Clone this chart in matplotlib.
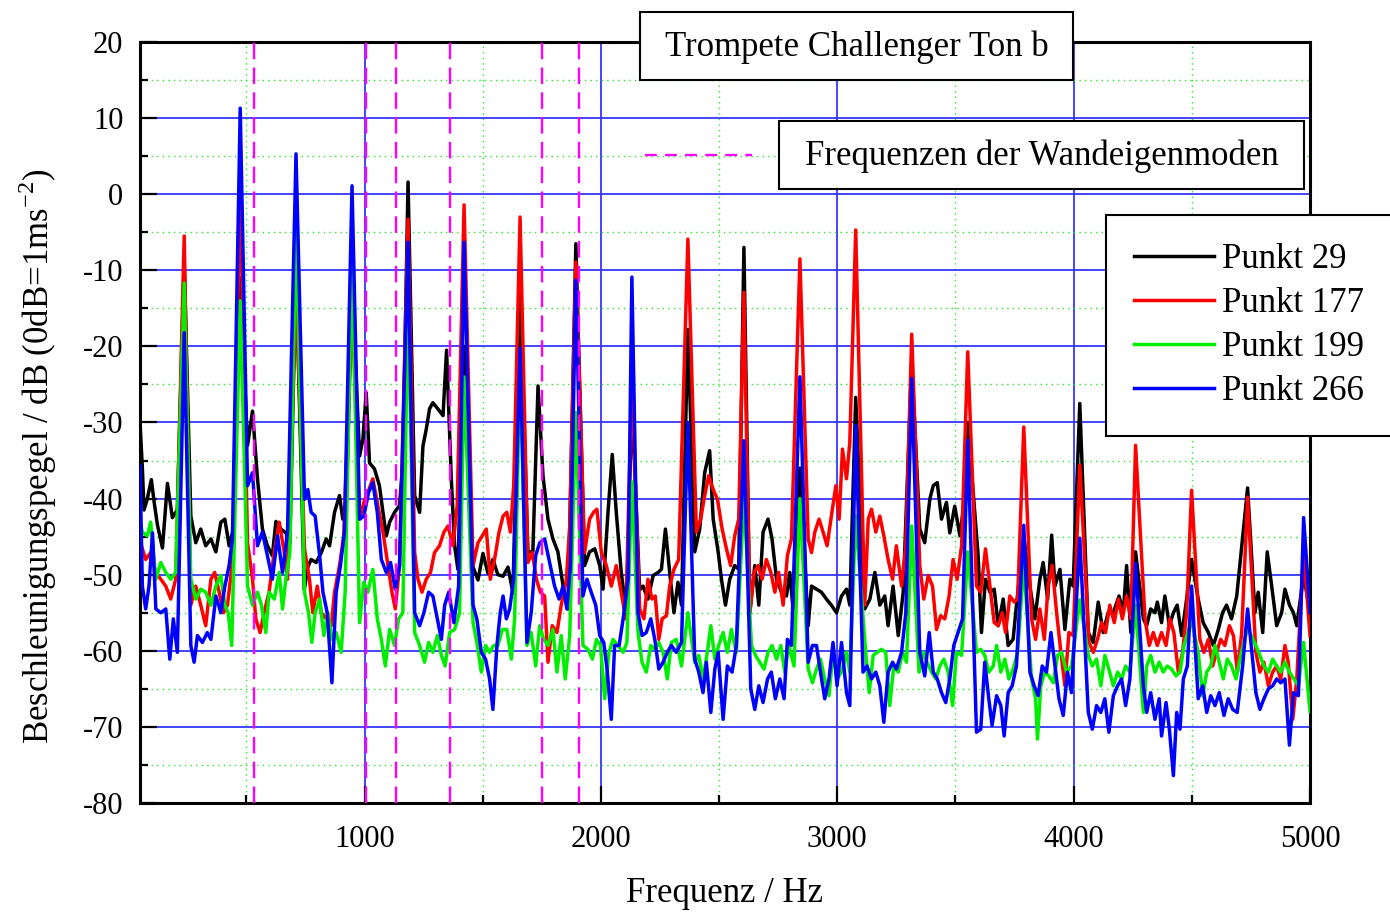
import numpy as np
import matplotlib
matplotlib.use("Agg")
from matplotlib import pyplot as plt
from matplotlib.patches import Rectangle
from matplotlib.lines import Line2D
from matplotlib.ticker import MultipleLocator

plt.rcParams['font.family'] = ['Liberation Serif', 'DejaVu Serif']
plt.rcParams['axes.unicode_minus'] = False

# harmonics of the played note (Hz)
harm_f = [237, 474, 710, 947, 1184, 1421, 1658, 1894, 2131, 2368, 2605,
          2842, 3078, 3315, 3552, 3789, 4026, 4262, 4499, 4736, 4973]

# wall eigenmode frequencies (magenta dashed lines)
mode_f = [531, 1007, 1131, 1363, 1752, 1907]

# peak level at every harmonic, dB
peaks_29 = [-9, -11, -10, -12, 1.6, -20, -12, -6.5, -27, -17.8, -7,
            -36, -26.7, -22, -30, -45, -27.5, -47, -48, -38.6, -50]
peaks_177 = [-5.5, 1, -12, -14, -3.3, -1.4, -3, -8.9, -24, -5.9, -12.9,
             -8.5, -4.7, -18.4, -20.7, -30.6, -35.6, -33, -38.9, -39.8, -47]
peaks_199 = [-11.7, -14, -3.4, -7.3, -13.5, -24, -22, -28.7, -37.8, -55, -40,
             -40, -42.3, -43.6, -47, -48.6, -53.3, -54, -56, -57, -58.9]
peaks_266 = [-18.2, 11.3, 5.3, 1.1, -6.3, -6.3, -20.2, -11.3, -10.9, -30, -32.4,
             -24, -30.4, -24.2, -32.3, -43.5, -45.2, -48.5, -51.5, -54.5, -42.5]

# level between the harmonics, (Hz, dB)
floor_29 = [
    (50, -30), (60, -36), (67, -41.5), (81, -40), (98, -37.5), (110, -40.5), (124, -43.5),
    (145, -46.5), (166, -38), (187, -42.5), (208, -41.5),
    (265, -42.3), (286, -45.8), (307, -44), (328, -46.2), (350, -45.3), (371, -47), (392, -43.1),
    (409, -42.7), (427, -46.2), (445, -44),
    (505, -33), (526, -28.5), (547, -37.4), (568, -44), (589, -46.2), (610, -47.5), (625, -43),
    (646, -44), (667, -44.5), (684, -46),
    (745, -52), (760, -49), (774, -48), (795, -48.4), (817, -47.1), (838, -45.3), (852, -46.2),
    (873, -41.8), (894, -39.6), (908, -42.7), (922, -42),
    (979, -34.4), (993, -32.2), (1007, -26.1), (1021, -35.3), (1042, -36.1), (1063, -38.3),
    (1078, -41.8), (1092, -44.9), (1106, -43.1), (1127, -41.8), (1148, -40.9), (1162, -35.3),
    (1212, -39.6), (1233, -41.8), (1247, -33.1), (1261, -30.9), (1275, -28.2), (1289, -27.4),
    (1310, -28.2), (1332, -29.1), (1347, -20.5), (1367, -37.4), (1381, -46.2), (1395, -49.3),
    (1459, -49), (1480, -50.7), (1501, -47.2), (1522, -49.8), (1543, -48), (1564, -50),
    (1586, -50.2), (1607, -49), (1628, -52.4),
    (1691, -47), (1712, -47), (1734, -25.2), (1755, -37), (1776, -42.7), (1797, -45.3),
    (1818, -47), (1840, -51.5), (1861, -54.5),
    (1931, -48.8), (1952, -47), (1974, -46.6), (1995, -48.8), (2009, -51.9), (2030, -41.8),
    (2048, -34.2), (2065, -41.8), (2086, -49.7), (2108, -55),
    (2164, -52), (2178, -51.5), (2199, -53.2), (2221, -50.1), (2242, -49.7), (2256, -49.3),
    (2273, -44), (2291, -49.7), (2309, -55), (2326, -51), (2341, -54),
    (2397, -47), (2418, -44), (2439, -36.6), (2460, -33.7), (2475, -42.7), (2496, -47),
    (2510, -50.6), (2527, -54), (2545, -50.6), (2566, -48.8), (2583, -49.3),
    (2630, -55), (2651, -48.8), (2668, -54), (2686, -44.4), (2707, -42.7), (2724, -45.3),
    (2743, -50.6), (2764, -52.3), (2785, -52.8), (2799, -49.7), (2813, -54.5),
    (2877, -56.7), (2891, -51.5), (2912, -51.9), (2933, -52.3), (2954, -53.2), (2975, -54),
    (2997, -55), (3018, -52.8), (3039, -51.9), (3053, -54),
    (3116, -54.5), (3138, -53.2), (3159, -49.7), (3180, -54), (3201, -52.8), (3215, -56.7),
    (3236, -51.5), (3258, -58), (3279, -52.3),
    (3349, -44), (3370, -45.8), (3392, -40), (3406, -38.3), (3423, -37.9), (3441, -42.7),
    (3462, -40.5), (3476, -44.5), (3497, -41), (3519, -44.9), (3533, -41.4),
    (3596, -47.5), (3610, -57.6), (3627, -50.6), (3646, -52.3), (3664, -51.9), (3681, -56.7),
    (3702, -53.2), (3723, -59.3), (3744, -58.5), (3758, -54),
    (3815, -51.5), (3836, -55.8), (3857, -50.6), (3871, -48.4), (3890, -53.2), (3907, -44.8),
    (3921, -51.5), (3942, -49.3), (3963, -57.2), (3984, -50.6), (3998, -51.5),
    (4062, -57.6), (4083, -58.9), (4104, -53.6), (4125, -57.6), (4146, -55), (4168, -55),
    (4192, -52.8), (4210, -55), (4224, -48.8), (4242, -57.6),
    (4295, -55.8), (4309, -56.7), (4326, -54.5), (4344, -55), (4354, -53.6), (4372, -56.3),
    (4386, -52.8), (4405, -56.7), (4422, -55), (4438, -54), (4457, -58), (4478, -53.2),
    (4527, -53.2), (4548, -56.3), (4570, -57.6), (4591, -59.3), (4612, -57.2), (4630, -55),
    (4647, -54), (4668, -55.8), (4690, -52.8),
    (4767, -55), (4781, -52.3), (4800, -57.6), (4819, -47), (4838, -51.5), (4859, -56.7),
    (4880, -55), (4894, -51.9), (4913, -54), (4930, -55), (4944, -56.7),
    (5000, -55)]

floor_177 = [
    (50, -45), (56, -46.2), (74, -48), (95, -47.1), (117, -49.7), (138, -50.6), (159, -51.5),
    (180, -53.2), (201, -50.6),
    (265, -54), (286, -51.5), (307, -54), (328, -56.7), (350, -50.6), (366, -49.7), (385, -52.3),
    (403, -55), (420, -54), (441, -48.4),
    (505, -45.8), (526, -50.6), (540, -55.8), (558, -57.6), (575, -55), (596, -52.3), (618, -47),
    (639, -43.1), (660, -47), (674, -50.6),
    (746, -46.6), (767, -50.6), (781, -55), (800, -51.5), (817, -55), (838, -55.8), (859, -56.7),
    (873, -52.3), (894, -48.8), (912, -44.9),
    (979, -42.7), (997, -40.5), (1014, -39.2), (1035, -37.4), (1056, -40.9), (1078, -44.4),
    (1099, -48.8), (1116, -52.3), (1130, -54.5), (1148, -48.8),
    (1212, -47.1), (1226, -50.6), (1243, -52.3), (1261, -50.6), (1279, -49.7), (1296, -47.1),
    (1317, -46.2), (1336, -44.4), (1353, -43.6), (1374, -46.2), (1392, -40.9),
    (1459, -48.8), (1480, -45.8), (1498, -44.9), (1515, -44), (1532, -50.6), (1550, -48),
    (1569, -44.4), (1586, -42.3), (1602, -41.8), (1617, -44.4), (1631, -38.3),
    (1691, -48.4), (1710, -47.1), (1727, -50.6), (1744, -52.3), (1762, -52.8), (1776, -61.5),
    (1794, -56.7), (1814, -57.6), (1832, -54), (1854, -50.6), (1868, -43.6),
    (1931, -47.1), (1952, -42.7), (1969, -41.8), (1983, -41.4), (2002, -47.1), (2023, -48.8),
    (2044, -51.5), (2065, -48.8), (2086, -52.3), (2105, -55.8),
    (2164, -54.5), (2182, -55.8), (2199, -50.6), (2216, -53.2), (2230, -52.8), (2245, -58.5),
    (2259, -55.8), (2277, -55.4), (2291, -51.5), (2309, -49.3), (2329, -48),
    (2404, -44.4), (2422, -42.7), (2439, -39.6), (2456, -37), (2475, -38.8), (2493, -40.1),
    (2513, -44), (2531, -46.6), (2549, -48.8), (2566, -44.9), (2583, -42.7),
    (2630, -55), (2648, -49.7), (2665, -48.8), (2682, -50.6), (2700, -48), (2719, -49.7),
    (2736, -52.3), (2752, -49.7), (2771, -54), (2789, -47.5), (2806, -45.3),
    (2877, -45.3), (2891, -47.1), (2905, -44.4), (2923, -42.7), (2940, -44.4), (2957, -46.2),
    (2975, -42.3), (2994, -38.3), (3008, -42.7), (3022, -33.5), (3039, -37.4), (3053, -32.6),
    (3116, -54), (3131, -42.7), (3145, -41.4), (3163, -44.4), (3180, -42.3), (3197, -44.9),
    (3215, -48), (3234, -50.6), (3250, -46.2), (3272, -51.5), (3290, -46.2),
    (3349, -48.8), (3366, -53.2), (3385, -50.1), (3403, -51.5), (3420, -57.2), (3437, -55.4),
    (3455, -55.8), (3473, -52.8), (3490, -48), (3507, -50.6), (3526, -46.2),
    (3589, -51.5), (3607, -52.3), (3627, -46.6), (3646, -51.5), (3664, -56.3), (3681, -56.7),
    (3698, -55), (3712, -57.6), (3730, -52.8), (3749, -53.6), (3763, -53.2),
    (3822, -55.8), (3839, -58.5), (3857, -54.5), (3876, -58.5), (3892, -51.5), (3909, -48.8),
    (3928, -55), (3946, -60.2), (3963, -64.6), (3980, -57.6), (3998, -58),
    (4065, -58.9), (4083, -60.2), (4101, -58.5), (4118, -56.3), (4135, -57.6), (4153, -54),
    (4172, -56.3), (4189, -53.2), (4206, -55.8), (4224, -52.8), (4242, -55.8),
    (4302, -55.8), (4320, -59.3), (4337, -57.6), (4354, -59.3), (4372, -57.6), (4391, -59.3),
    (4407, -55.8), (4424, -57.6), (4443, -62.8), (4461, -60.2), (4478, -55),
    (4534, -58.5), (4551, -60.2), (4570, -58.5), (4588, -62), (4605, -60.2), (4622, -58.5),
    (4640, -59.3), (4659, -56.7), (4676, -58), (4693, -62.8), (4711, -57.6),
    (4771, -60.2), (4788, -62.8), (4805, -61.5), (4824, -64.6), (4842, -62.8), (4859, -62),
    (4876, -63.7), (4894, -59.3), (4908, -61.5), (4927, -69), (4944, -63.7),
    (5000, -58)]

floor_199 = [
    (50, -43), (60, -44.4), (81, -44.9), (95, -43.1), (117, -50.6), (138, -48.4), (159, -49.7),
    (180, -50.6), (201, -49.7),
    (265, -50.6), (286, -53.2), (307, -51.9), (328, -52.3), (350, -54), (371, -51.5), (392, -50.1),
    (409, -54), (423, -55), (438, -59.3),
    (505, -51.5), (526, -54), (547, -52.3), (564, -54), (582, -57.6), (596, -52.3), (618, -53.2),
    (639, -49.7), (653, -54.5), (667, -50.6), (684, -47.1),
    (746, -52.3), (763, -55), (777, -58.9), (791, -55), (810, -53.2), (828, -58), (845, -55),
    (862, -58.5), (880, -57.6), (901, -60.2), (918, -52.3),
    (979, -56.3), (997, -51), (1014, -52.3), (1035, -49.3), (1054, -55.8), (1071, -58.5),
    (1088, -62), (1106, -57.2), (1127, -59.3), (1144, -55.8), (1162, -55),
    (1212, -57.6), (1233, -59.3), (1254, -61.5), (1271, -58.9), (1289, -60.2), (1308, -58),
    (1325, -60.6), (1341, -62), (1360, -57.6), (1381, -57.2), (1402, -55),
    (1459, -56.3), (1475, -58.9), (1494, -62.8), (1512, -59.3), (1529, -60.2), (1546, -59.3),
    (1564, -59.3), (1583, -57.2), (1602, -57.2), (1621, -61.1), (1635, -55.8),
    (1687, -59.3), (1705, -57.6), (1724, -62), (1741, -56.7), (1758, -58.5), (1776, -59.3),
    (1797, -57.2), (1814, -62.8), (1832, -58), (1849, -63.7), (1868, -58),
    (1924, -59.3), (1945, -59.8), (1964, -61.1), (1981, -58.5), (1998, -59.3), (2016, -66.3),
    (2034, -60.2), (2051, -58.5), (2072, -59.3), (2094, -60.2), (2110, -58.9),
    (2157, -57.6), (2174, -61.5), (2192, -62.8), (2211, -59.3), (2228, -59.8), (2245, -58.9),
    (2263, -60.2), (2281, -63.7), (2298, -58.9), (2319, -58.5), (2341, -62),
    (2397, -61.5), (2414, -60.6), (2432, -63.7), (2450, -60.2), (2465, -56.7), (2482, -61.1),
    (2498, -59.3), (2517, -57.6), (2535, -60.2), (2552, -57.2), (2573, -60.2),
    (2637, -59.3), (2654, -60.6), (2672, -61.5), (2690, -62.4), (2707, -60.2), (2724, -59.3),
    (2743, -61.1), (2761, -59.3), (2778, -62.8), (2795, -59.3), (2817, -62),
    (2877, -62.4), (2895, -64.2), (2912, -62.4), (2929, -61.1), (2947, -63.7), (2965, -65.9),
    (2982, -60.2), (2999, -63.7), (3018, -62.8), (3039, -60.2), (3053, -62.8),
    (3116, -58.5), (3135, -65.5), (3152, -60.6), (3169, -60.2), (3187, -59.8), (3205, -60.2),
    (3222, -67.2), (3239, -62), (3258, -62.8), (3276, -60.2), (3293, -61.5),
    (3346, -62.8), (3363, -60.2), (3380, -61.5), (3399, -62.8), (3417, -63.7), (3434, -62),
    (3451, -61.1), (3469, -62.8), (3488, -67.2), (3504, -60.2), (3526, -60.6),
    (3589, -60.2), (3607, -59.8), (3624, -60.6), (3641, -62.8), (3660, -62), (3674, -59.3),
    (3692, -62.8), (3709, -61.1), (3726, -63.7), (3744, -62.4), (3763, -60.2),
    (3822, -63.7), (3839, -66.3), (3847, -71.6), (3861, -64.6), (3878, -62.8), (3895, -63.3),
    (3914, -64.2), (3932, -60.6), (3949, -60.2), (3970, -62.8), (3991, -62),
    (4062, -60.6), (4079, -62), (4097, -61.1), (4115, -64.6), (4132, -60.6), (4149, -62.4),
    (4168, -64.6), (4186, -62.8), (4203, -63.7), (4220, -62), (4238, -62.8),
    (4295, -68.1), (4309, -62), (4326, -60.6), (4344, -62.8), (4362, -61.5), (4379, -62.8),
    (4396, -62), (4414, -62.4), (4433, -63.3), (4450, -62.8), (4467, -59.3),
    (4527, -60.2), (4546, -65.9), (4563, -62.8), (4580, -62), (4598, -59.3), (4616, -61.5),
    (4633, -63.7), (4650, -61.1), (4668, -62), (4687, -63.7), (4707, -60.6),
    (4771, -59.3), (4788, -60.6), (4805, -62), (4824, -62.8), (4842, -61.1), (4859, -62),
    (4876, -62.8), (4894, -61.5), (4913, -62.8), (4932, -63.7), (4951, -64.6),
    (5000, -68)]

floor_266 = [
    (50, -35.7), (60, -51.5), (74, -54.5), (88, -51.5), (103, -44.5), (117, -54.5), (138, -55),
    (159, -54.5), (176, -61.1), (191, -55.8), (208, -60.2),
    (265, -59.3), (279, -61.5), (293, -58), (314, -58.9), (335, -57.6), (350, -58.5), (371, -52.8),
    (392, -55), (409, -51.5), (427, -48.8), (441, -45.3),
    (505, -38.3), (526, -36.6), (547, -46.2), (568, -44.4), (589, -47.5), (610, -50.6),
    (632, -44.9), (653, -49.7), (674, -44.4),
    (746, -40.1), (760, -38.8), (774, -41.8), (791, -42.3), (810, -47.5), (824, -52.3), (842, -55),
    (862, -64.2), (880, -52.3), (898, -48.8), (915, -44.4),
    (979, -42.7), (997, -42.3), (1017, -39.2), (1035, -37.9), (1054, -41.8), (1071, -48),
    (1092, -49.7), (1110, -48.4), (1130, -51.9), (1148, -48.8),
    (1212, -55), (1233, -56.7), (1251, -55), (1271, -52.3), (1289, -52.8), (1308, -55.8),
    (1325, -58.5), (1339, -54), (1356, -52.3), (1378, -56.3), (1398, -51.5),
    (1459, -54), (1475, -55.8), (1494, -60.2), (1512, -61.1), (1529, -63.7), (1543, -67.7),
    (1560, -59.3), (1574, -55), (1586, -52.8), (1600, -55.8), (1614, -54.5), (1631, -50.6),
    (1687, -58.9), (1705, -55), (1724, -47.5), (1741, -45.8), (1762, -45.3), (1783, -48.4),
    (1804, -51.5), (1823, -53.2), (1840, -51.5), (1856, -54.5), (1871, -48.8),
    (1924, -52.8), (1941, -50.6), (1959, -52.3), (1978, -54), (1995, -58), (2012, -58.9),
    (2026, -62.4), (2044, -69), (2058, -59.3), (2077, -59.3), (2094, -55.8), (2115, -50.6),
    (2157, -55), (2174, -58), (2192, -57.6), (2211, -55.8), (2228, -58.5), (2245, -62.4),
    (2263, -61.5), (2281, -60.2), (2298, -59.3), (2319, -60.2), (2341, -58.9),
    (2397, -61.1), (2414, -62.8), (2432, -65.5), (2446, -61.5), (2465, -68.1), (2482, -62.4),
    (2496, -60.2), (2517, -69), (2535, -62), (2555, -62.8), (2573, -59.3),
    (2634, -65), (2651, -67.7), (2668, -64.6), (2686, -66.8), (2705, -63.7), (2721, -62.8),
    (2738, -66.3), (2757, -63.7), (2775, -66.3), (2789, -58.5), (2806, -59.3),
    (2877, -61.5), (2895, -59.3), (2912, -59.3), (2929, -62.8), (2947, -66.3), (2965, -63.7),
    (2982, -58.9), (2999, -64.6), (3018, -58.9), (3039, -65.5), (3053, -67.2),
    (3109, -62.8), (3126, -62), (3145, -63.7), (3163, -62.8), (3180, -64.6), (3197, -69.4),
    (3215, -62.8), (3234, -61.5), (3250, -62.4), (3272, -60.2), (3290, -55),
    (3349, -60.2), (3370, -63.3), (3389, -57.6), (3406, -62.8), (3423, -63.7), (3441, -65.5),
    (3459, -66.8), (3476, -63.7), (3493, -59.3), (3511, -57.6), (3530, -55.8),
    (3589, -70.7), (3607, -70.3), (3624, -61.5), (3641, -66.3), (3655, -69.8), (3674, -65.9),
    (3692, -67.2), (3706, -71.2), (3723, -65.5), (3740, -64.6), (3758, -62),
    (3815, -62.8), (3833, -64.6), (3850, -65.9), (3867, -62), (3885, -62.8), (3904, -57.6),
    (3921, -62), (3938, -66.3), (3956, -68.5), (3974, -62.8), (3991, -65.5),
    (4062, -68.1), (4079, -70.3), (4097, -67.2), (4115, -68.1), (4132, -66.3), (4149, -70.7),
    (4168, -65.9), (4186, -64.6), (4203, -63.7), (4220, -67.2), (4238, -63.7),
    (4295, -64.6), (4309, -68.1), (4326, -65.5), (4344, -69), (4362, -66.3), (4372, -71.2),
    (4391, -66.8), (4405, -70.3), (4422, -76.4), (4436, -68.1), (4450, -70.3), (4464, -63.7),
    (4481, -62),
    (4527, -66.3), (4546, -64.6), (4563, -68.1), (4580, -65.9), (4598, -67.2), (4616, -65.5),
    (4636, -68.5), (4654, -66.3), (4673, -67.7), (4692, -68.1), (4715, -62),
    (4771, -65.5), (4788, -67.7), (4805, -66.3), (4824, -65), (4842, -64.6), (4859, -63.7),
    (4876, -64.2), (4894, -63.7), (4913, -72.4), (4930, -65.5), (4951, -65.9),
    (5000, -55)]

series = [
    ("Punkt 29", floor_29, peaks_29, "black"),
    ("Punkt 177", floor_177, peaks_177, "#ff0000"),
    ("Punkt 199", floor_199, peaks_199, "#00ee00"),
    ("Punkt 266", floor_266, peaks_266, "#0000ff"),
]


def spectrum(floor, peaks):
    pts = sorted(floor + list(zip(harm_f, peaks)))
    f = np.array([p[0] for p in pts], dtype=float)
    db = np.array([p[1] for p in pts], dtype=float)
    return f, db


W, H = 1390, 914
fig = plt.figure(figsize=(W / 100, H / 100), dpi=100)
ax = fig.add_axes([140 / W, 1 - 803 / H, 1170 / W, 761 / H])

for label, floor, peaks, color in series:
    f, db = spectrum(floor, peaks)
    ax.plot(f, db, color=color, lw=2.5, label=label, zorder=3,
            solid_joinstyle='round')

for fm in mode_f:
    ax.axvline(fm, color='#ff00ff', lw=1.7, dashes=(7, 3.5), zorder=4)

ax.set_xlim(50, 5000)
ax.set_ylim(-80, 20)
ax.xaxis.set_major_locator(MultipleLocator(1000))
ax.xaxis.set_minor_locator(MultipleLocator(500))
ax.yaxis.set_major_locator(MultipleLocator(10))
ax.yaxis.set_minor_locator(MultipleLocator(5))

ax.grid(which='major', color='#3535ff', lw=1.3, ls='-', zorder=1)
ax.grid(which='minor', color='#22ee22', lw=1.0, ls=(0, (1, 3)), zorder=1)
ax.set_axisbelow(True)

ax.tick_params(which='both', direction='in', top=False, right=False,
               labelsize=22, width=1.6)
ax.tick_params(which='major', length=12, pad=12)
ax.tick_params(which='minor', length=6)
ax.tick_params(axis='x', which='major', pad=16)
for sp in ax.spines.values():
    sp.set_linewidth(2.2)

ax.set_xlabel("Frequenz / Hz", fontsize=25)
ax.set_ylabel(r"Beschleunigungspegel / dB (0dB=1ms$^{\mathregular{-2}}$)", fontsize=25)
ax.xaxis.set_label_coords(0.5, -0.097)
ax.yaxis.set_label_coords(-0.069, 0.455)

leg = ax.legend(loc='upper left', bbox_to_anchor=(1106 / W, 1 - 215 / H),
                bbox_transform=fig.transFigure, fontsize=25, frameon=True,
                fancybox=False, framealpha=1, edgecolor='black',
                handlelength=2.3, handletextpad=0.25, borderpad=0.8,
                labelspacing=0.32, borderaxespad=0)
leg.get_frame().set_linewidth(1.5)
leg.set_zorder(10)

# title box
fig.add_artist(Rectangle((640 / W, 1 - 80 / H), 433 / W, 68 / H,
                         transform=fig.transFigure, facecolor='white',
                         edgecolor='black', lw=1.5, zorder=5))
fig.text(857 / W, 1 - 47 / H, "Trompete Challenger Ton b", fontsize=25,
         ha='center', va='center', zorder=6)

# eigenmode key
fig.add_artist(Rectangle((779 / W, 1 - 189 / H), 525 / W, 68 / H,
                         transform=fig.transFigure, facecolor='white',
                         edgecolor='black', lw=1.5, zorder=5))
fig.text(1041.5 / W, 1 - 156 / H, "Frequenzen der Wandeigenmoden", fontsize=25,
         ha='center', va='center', zorder=6)
fig.add_artist(Line2D([645 / W, 752 / W], [1 - 155 / H, 1 - 155 / H],
                      transform=fig.transFigure, color='#ff00ff', lw=1.7,
                      dashes=(5, 3.5), zorder=6))

fig.savefig("out.png", dpi=100)
